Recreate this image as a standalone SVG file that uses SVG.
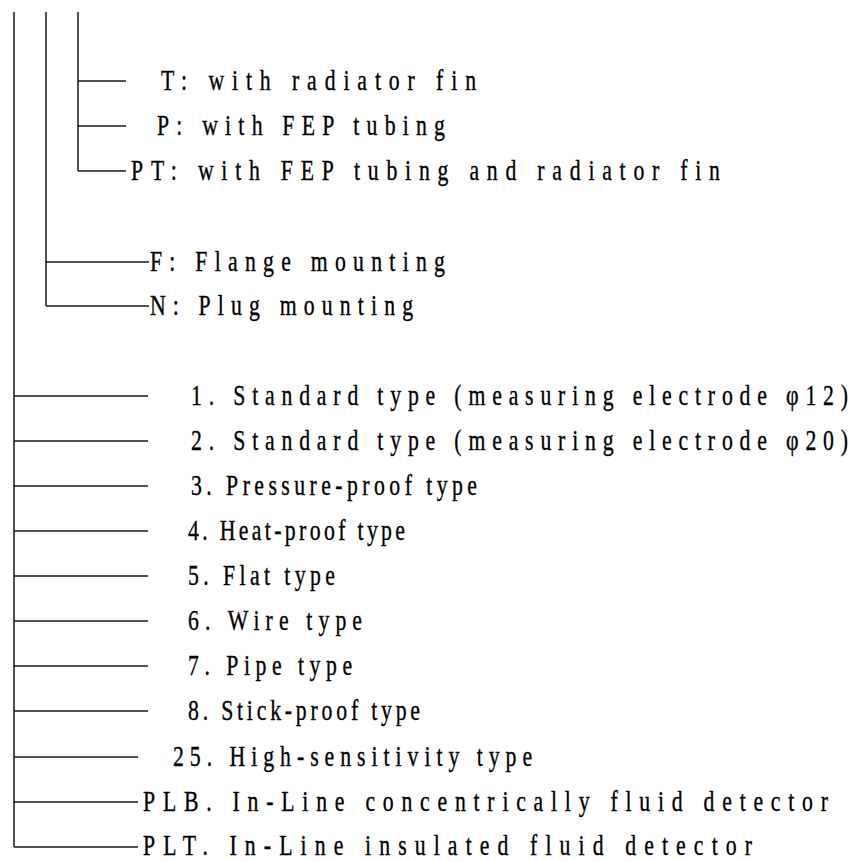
<svg xmlns="http://www.w3.org/2000/svg" width="860" height="861" viewBox="0 0 860 861">
<style>
  .c { stroke: #1a1a1a; stroke-width: 1.5; fill: none; }
  .t { font-family: "Liberation Serif", "DejaVu Serif", serif; font-size: 29px; fill: #000; stroke: #000; stroke-width: 0.35; }
</style>
<rect width="860" height="861" fill="#fff"/>
<g id="connectors">
  <path class="c" d="M14 12 V847 M46 12 V306 M78 12 V171"/>
  <path class="c" d="M78 81 H126 M78 126 H126 M78 171 H126"/>
  <path class="c" d="M46 262 H149 M46 306 H149"/>
  <path class="c" d="M14 396 H148 M14 441 H148 M14 486 H148 M14 531 H148 M14 576 H148 M14 621 H148 M14 666 H148 M14 711 H148"/>
  <path class="c" d="M14 757 H138 M14 802 H138 M14 847 H138"/>
</g>
<g id="nodes" transform="scale(0.75 1)">
  <g id="opt-T"><text class="t" x="214.7" y="90" textLength="420" lengthAdjust="spacing">T: with radiator fin</text></g>
  <g id="opt-P"><text class="t" x="209.3" y="135" textLength="384" lengthAdjust="spacing">P: with FEP tubing</text></g>
  <g id="opt-PT"><text class="t" x="174.7" y="180" textLength="785.3" lengthAdjust="spacing">PT: with FEP tubing and radiator fin</text></g>
  <g id="mount-F"><text class="t" x="200" y="271" textLength="393.3" lengthAdjust="spacing">F: Flange mounting</text></g>
  <g id="mount-N"><text class="t" x="200" y="315" textLength="350.7" lengthAdjust="spacing">N: Plug mounting</text></g>
  <g id="type-1"><text class="t" x="254.7" y="405" textLength="876" lengthAdjust="spacing">1. Standard type  (measuring electrode  φ12)</text></g>
  <g id="type-2"><text class="t" x="254.7" y="450" textLength="876" lengthAdjust="spacing">2. Standard type  (measuring electrode  φ20)</text></g>
  <g id="type-3"><text class="t" x="254.7" y="495" textLength="381.3" lengthAdjust="spacing">3. Pressure-proof type</text></g>
  <g id="type-4"><text class="t" x="250.7" y="540" textLength="289.3" lengthAdjust="spacing">4. Heat-proof type</text></g>
  <g id="type-5"><text class="t" x="250.7" y="585" textLength="196" lengthAdjust="spacing">5. Flat type</text></g>
  <g id="type-6"><text class="t" x="250.7" y="630" textLength="232" lengthAdjust="spacing">6. Wire type</text></g>
  <g id="type-7"><text class="t" x="250.7" y="675" textLength="218.7" lengthAdjust="spacing">7. Pipe type</text></g>
  <g id="type-8"><text class="t" x="250.7" y="720" textLength="309.3" lengthAdjust="spacing">8. Stick-proof type</text></g>
  <g id="type-25"><text class="t" x="230.7" y="766" textLength="478.7" lengthAdjust="spacing">25. High-sensitivity type</text></g>
  <g id="type-PLB"><text class="t" x="190.7" y="811" textLength="913.3" lengthAdjust="spacing">PLB. In-Line concentrically fluid detector</text></g>
  <g id="type-PLT"><text class="t" x="190.7" y="855" textLength="812" lengthAdjust="spacing">PLT. In-Line insulated fluid detector</text></g>
</g>
</svg>
